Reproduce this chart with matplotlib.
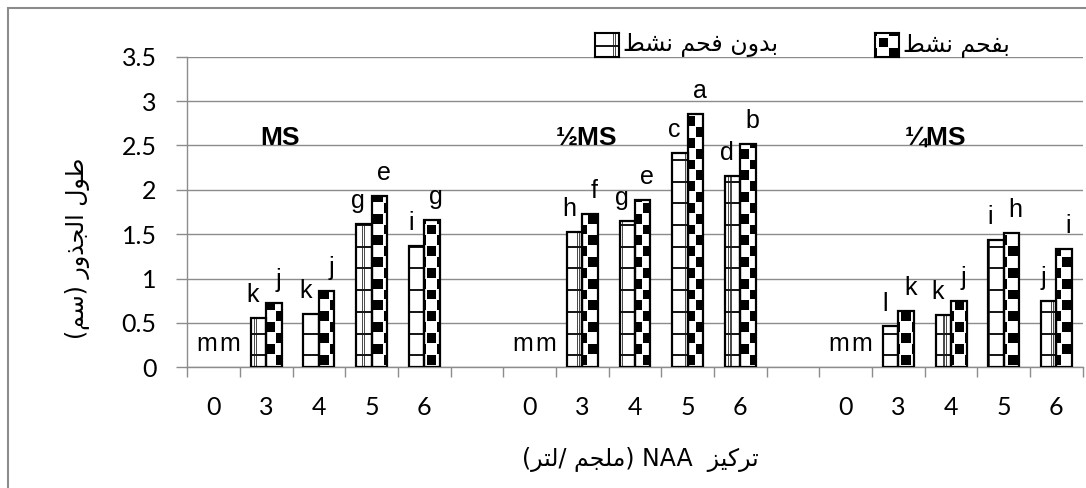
import re

import matplotlib
matplotlib.use('Agg')
import matplotlib.pyplot as plt
import matplotlib.path as mpath
import numpy as np
from matplotlib.patches import PathPatch, Rectangle

# root length (cm) per NAA concentration, three media strengths
concentrations = ['0', '3', '4', '5', '6']
media = ['MS', '½MS', '¼MS']

plain_ms = [0, 0.56, 0.60, 1.62, 1.37]
plain_half = [0, 1.53, 1.65, 2.42, 2.16]
plain_quarter = [0, 0.46, 0.59, 1.43, 0.75]

charcoal_ms = [0, 0.73, 0.86, 1.93, 1.66]
charcoal_half = [0, 1.73, 1.89, 2.85, 2.52]
charcoal_quarter = [0, 0.63, 0.75, 1.51, 1.33]

letters_plain = ['m', 'k', 'k', 'g', 'i', 'm', 'h', 'g', 'c', 'd', 'm', 'l', 'k', 'i', 'j']
letters_charcoal = ['m', 'j', 'j', 'e', 'g', 'm', 'f', 'e', 'a', 'b', 'm', 'k', 'j', 'h', 'i']

legend_plain = 'بدون فحم نشط'
legend_charcoal = 'بفحم نشط'
y_title = 'طول الجذور (سم)'
x_title = 'تركيز  NAA (ملجم /لتر)'

# isolated, final, initial, medial
FORMS = {
    'ا': ('\ufe8d', '\ufe8e', None, None),
    'ب': ('\ufe8f', '\ufe90', '\ufe91', '\ufe92'),
    'ت': ('\ufe95', '\ufe96', '\ufe97', '\ufe98'),
    'ج': ('\ufe9d', '\ufe9e', '\ufe9f', '\ufea0'),
    'ح': ('\ufea1', '\ufea2', '\ufea3', '\ufea4'),
    'د': ('\ufea9', '\ufeaa', None, None),
    'ذ': ('\ufeab', '\ufeac', None, None),
    'ر': ('\ufead', '\ufeae', None, None),
    'ز': ('\ufeaf', '\ufeb0', None, None),
    'س': ('\ufeb1', '\ufeb2', '\ufeb3', '\ufeb4'),
    'ش': ('\ufeb5', '\ufeb6', '\ufeb7', '\ufeb8'),
    'ط': ('\ufec1', '\ufec2', '\ufec3', '\ufec4'),
    'ف': ('\ufed1', '\ufed2', '\ufed3', '\ufed4'),
    'ك': ('\ufed9', '\ufeda', '\ufedb', '\ufedc'),
    'ل': ('\ufedd', '\ufede', '\ufedf', '\ufee0'),
    'م': ('\ufee1', '\ufee2', '\ufee3', '\ufee4'),
    'ن': ('\ufee5', '\ufee6', '\ufee7', '\ufee8'),
    'و': ('\ufeed', '\ufeee', None, None),
    'ي': ('\ufef1', '\ufef2', '\ufef3', '\ufef4'),
}


def arabic(text):
    # matplotlib has no shaping or bidi, so pick the joined forms and lay it out right to left
    out = []
    for i, ch in enumerate(text):
        if ch not in FORMS:
            out.append(ch)
            continue
        prev = text[i - 1] if i > 0 else ''
        nxt = text[i + 1] if i + 1 < len(text) else ''
        join_prev = prev in FORMS and FORMS[prev][2] is not None
        join_next = FORMS[ch][2] is not None and nxt in FORMS
        if join_prev and join_next:
            out.append(FORMS[ch][3])
        elif join_prev:
            out.append(FORMS[ch][1])
        elif join_next:
            out.append(FORMS[ch][2])
        else:
            out.append(FORMS[ch][0])
    s = ''.join(out)[::-1]
    s = re.sub(r'[A-Za-z0-9.]+', lambda m: m.group(0)[::-1], s)
    return s.translate(str.maketrans('()', ')('))


W, H = 1086, 488
AX_L, AX_R, AX_T, AX_B = 187.3, 1082.7, 56.7, 367.3
PX, PY = 21.52, 21.65


def grid_fill(px, py, x0, y0):
    img = np.ones(px.shape)
    vx = np.mod(px - x0, PX)
    hy = np.mod(py - y0, PY)
    img[(vx < 1.2) | ((vx > 2.2) & (vx < 3.4))] = 0.3
    img[hy < 2.0] = 0.1
    return img


def checker_fill(px, py, x0, y0):
    cx, cy = PX / 2, PY / 2
    i = np.floor((px - x0) / cx)
    j = np.floor((py - y0) / cy)
    fx = np.mod(px - x0, cx)
    fy = np.mod(py - y0, cy)
    inner = (fx > 0.5) & (fx < cx - 0.5) & (fy > 0.5) & (fy < cy - 0.5)
    return np.where(((i + j) % 2 == 0) & inner, 0.0, 1.0)


fig = plt.figure(figsize=(W / 100, H / 100), dpi=100)
ax = fig.add_axes([AX_L / W, 1 - AX_B / H, (AX_R - AX_L) / W, (AX_B - AX_T) / H])

n_conc = len(concentrations)
slots = np.array([g * (n_conc + 1) + k for g in range(len(media)) for k in range(n_conc)])
plain = plain_ms + plain_half + plain_quarter
charcoal = charcoal_ms + charcoal_half + charcoal_quarter
bw = 0.294

# (values, x, fill, letters, label shift for bars, label shift for empty slots)
series = [(plain, slots - bw / 2, grid_fill, letters_plain, -4, 0.5),
          (charcoal, slots + bw / 2, checker_fill, letters_charcoal, 3, 6)]

nx, ny = 895, 311
gx = AX_L + (np.arange(nx) + 0.5) * (AX_R - AX_L) / nx
gy = AX_T + (np.arange(ny) + 0.5) * (AX_B - AX_T) / ny
px, py = np.meshgrid(gx, gy)

for values, xs, fill, letters, dx, dx0 in series:
    lw = [1.6 if v > 0 else 0 for v in values]
    bars = ax.bar(xs, values, bw, facecolor='none', edgecolor='black', linewidth=lw, zorder=3)
    outline = mpath.Path.make_compound_path(
        *[b.get_path().transformed(b.get_patch_transform()) for b in bars])
    tex = ax.imshow(fill(px, py, 254.3, 354.5), cmap='gray', vmin=0, vmax=1,
                    extent=(-0.5, 16.5, 0, 3.5), origin='upper', interpolation='nearest',
                    aspect='auto', zorder=2)
    tex.set_clip_path(PathPatch(outline, transform=ax.transData))
    for x, v, t in zip(xs, values, letters):
        ax.annotate(t, (x, v), xytext=(dx if v > 0 else dx0, 11.5), textcoords='offset points',
                    ha='center', va='baseline', fontsize=18, family='Liberation Sans')

for g, name in enumerate(media):
    ax.text([1.26, 7.07, 13.7][g], 2.51, name, ha='center', va='baseline',
            fontsize=19, fontweight='bold', family='Liberation Sans')

ax.set_xlim(-0.5, 16.5)
ax.set_ylim(0, 3.5)
grid_col = '#8c8c8c'
ax.set_yticks(np.arange(0, 3.51, 0.5))
ax.set_yticklabels([f'{v:g}' for v in np.arange(0, 3.51, 0.5)])
ax.set_xticks(slots)
ax.set_xticklabels(concentrations * len(media))
ax.set_xticks(np.arange(-0.5, 17, 1), minor=True)
ax.tick_params(axis='x', which='major', length=0, pad=21, labelsize=18)
ax.tick_params(axis='x', which='minor', length=7.5, width=1.0, color=grid_col)
ax.tick_params(axis='y', length=8, width=1.0, color=grid_col, pad=14, labelsize=18)
for lab in ax.get_xticklabels() + ax.get_yticklabels():
    lab.set_family('Lato')
ax.yaxis.grid(True, color=grid_col, linewidth=1.0, zorder=0)
ax.set_axisbelow(True)
for side in ['top', 'right']:
    ax.spines[side].set_visible(False)
for side in ['left', 'bottom']:
    ax.spines[side].set_color(grid_col)
    ax.spines[side].set_linewidth(1.0)

# chart border
fig.patches.append(Rectangle((7.5 / W, -0.1), 1.2, 1 - 7.5 / H + 0.1, transform=fig.transFigure,
                             fill=False, edgecolor=grid_col, linewidth=1.5))

# legend keys
for x0, fill, org, label in [(595, grid_fill, (613, 45.5), legend_plain),
                             (875, checker_fill, (878, 37), legend_charcoal)]:
    kax = fig.add_axes([x0 / W, 1 - 57 / H, 24 / W, 24 / H])
    kx, ky = np.meshgrid(x0 + np.arange(24) + 0.5, 33 + np.arange(24) + 0.5)
    kax.imshow(fill(kx, ky, *org), cmap='gray', vmin=0, vmax=1, interpolation='nearest',
               aspect='auto')
    kax.set_xticks([])
    kax.set_yticks([])
    for sp in kax.spines.values():
        sp.set_linewidth(1.5)
    fig.text((x0 + 28) / W, 1 - 45 / H, arabic(label), ha='left', va='center',
             fontsize=17, family='DejaVu Sans')

fig.text(78 / W, 1 - 248 / H, arabic(y_title), rotation=90, ha='center', va='center',
         fontsize=17, family='DejaVu Sans')
fig.text(640 / W, 1 - 460 / H, arabic(x_title), ha='center', va='center',
         fontsize=17, family='DejaVu Sans')

fig.savefig('out.png', dpi=100)
